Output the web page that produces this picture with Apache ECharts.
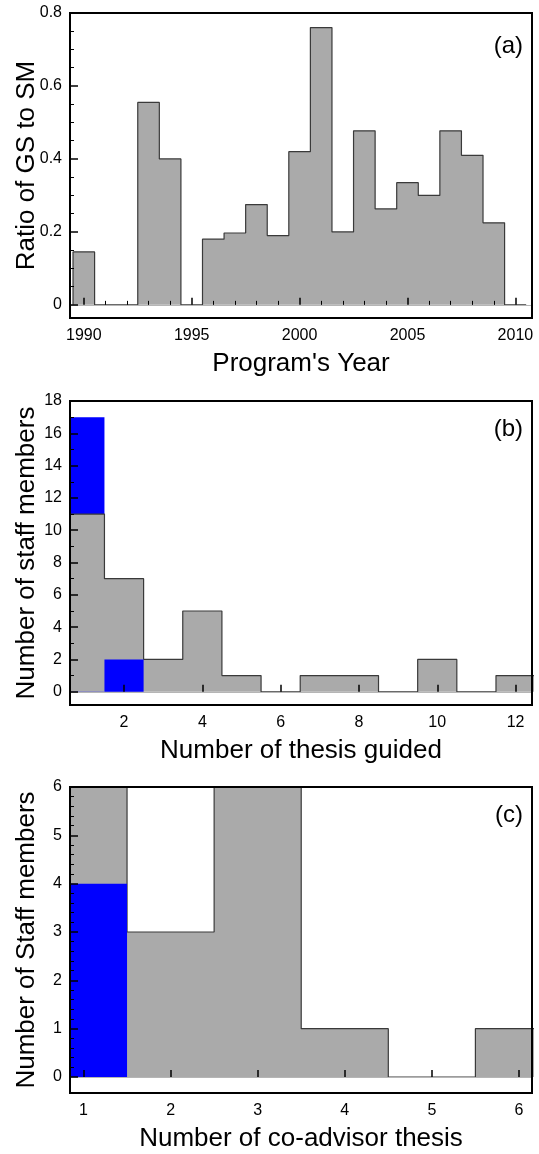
<!DOCTYPE html>
<html><head><meta charset="utf-8">
<script src="https://cdn.jsdelivr.net/npm/echarts@6/dist/echarts.min.js"></script>
<style>html,body{margin:0;padding:0;background:#fff}#c{width:539px;height:1154px}</style>
</head><body><div id="c"></div>
<script>
// ---------- Panel (a) ----------
const yearsA = [1990,1991,1992,1993,1994,1995,1996,1997,1998,1999,2000,2001,2002,2003,2004,2005,2006,2007,2008,2009,2010];
const ratioA = [0.145,0,0,0.555,0.40,0,0.18,0.197,0.275,0.19,0.42,0.76,0.20,0.477,0.263,0.335,0.30,0.477,0.41,0.225,0];
const yTicksA = [0,0.2,0.4,0.6,0.8];
const yMinorA = [0.05,0.1,0.15,0.25,0.3,0.35,0.45,0.5,0.55,0.65,0.7,0.75];
const xTicksA = [1990,1995,2000,2005,2010];
const xMinorA = [1991,1992,1993,1994,1996,1997,1998,1999,2001,2002,2003,2004,2006,2007,2008,2009];

// ---------- Panel (b) ----------
const thesisB = [1,2,3,4,5,6,7,8,9,10,11,12];
const staffB  = [11,7,2,5,1,0,1,1,0,2,0,1];
const blueB   = [17,2,0,0,0,0,0,0,0,0,0,0];
const yTicksB = [0,2,4,6,8,10,12,14,16,18];
const yMinorB = [1,3,5,7,9,11,13,15,17];
const xTicksB = [2,4,6,8,10,12];

// ---------- Panel (c) ----------
const coAdvC = [1,2,3,4,5,6];
const staffC = [6,3,6,1,0,1];
const blueC  = [4,0,0,0,0,0];
const yTicksC = [0,1,2,3,4,5,6];
const yMinorC = [0.2,0.4,0.6,0.8,1.2,1.4,1.6,1.8,2.2,2.4,2.6,2.8,3.2,3.4,3.6,3.8,4.2,4.4,4.6,4.8,5.2,5.4,5.6,5.8];
const xTicksC = [1,2,3,4,5,6];

const FONT = 'Liberation Sans, Arial, Helvetica, sans-serif';
const GRAY = '#aaaaaa', EDGE = '#3a3a3a', BLUE = '#0000ff';

// histogram outline points at bin edges (bins of width 1 centred on the categories)
function stepEdges(centers, vals) {
  const pts = [[centers[0] - 0.5, 0]];
  centers.forEach((c, i) => pts.push([c - 0.5, vals[i]]));
  const last = centers[centers.length - 1] + 0.5;
  pts.push([last, vals[vals.length - 1]]);
  pts.push([last, 0]);
  return pts;
}

const grids = [
  {left: 70, top: 13, width: 462, height: 305},
  {left: 70, top: 401, width: 462, height: 304},
  {left: 70, top: 787, width: 462, height: 306}
].map(g => Object.assign({show: true, borderColor: '#000', borderWidth: 2, backgroundColor: 'transparent',
  z: 10, containLabel: false, outerBoundsMode: 'none'}, g));

const panels = [
  {x: yearsA, v: ratioA, blue: null, xr: [1989.36, 2010.77], yr: [-0.036, 0.8],
   xt: xTicksA, xm: xMinorA, yt: yTicksA, ym: yMinorA,
   xname: "Program's Year", yname: 'Ratio of GS to SM'},
  {x: thesisB, v: staffB, blue: blueB, xr: [0.62, 12.42], yr: [-0.82, 18],
   xt: xTicksB, xm: [], yt: yTicksB, ym: yMinorB,
   xname: 'Number of thesis guided', yname: 'Number of staff members'},
  {x: coAdvC, v: staffC, blue: blueC, xr: [0.845, 6.15], yr: [-0.33, 6],
   xt: xTicksC, xm: [], yt: yTicksC, ym: yMinorC,
   xname: 'Number of co-advisor thesis', yname: 'Number of Staff members'}
];

const plain = v => String(Math.round(v * 1000) / 1000);

const xAxis = [], yAxis = [], series = [];
panels.forEach((p, gi) => {
  const xi = xAxis.length, yi = yAxis.length;
  xAxis.push({
    type: 'value', gridIndex: gi, position: 'bottom', min: p.xr[0], max: p.xr[1], z: 10,
    axisLine: {show: false}, splitLine: {show: false},
    axisTick: {show: true, inside: true, length: 7, customValues: p.xt, lineStyle: {color: '#000', width: 1.5}},
    axisLabel: {customValues: p.xt, formatter: plain, color: '#000', fontSize: 16, fontFamily: FONT, margin: 10},
    name: p.xname, nameLocation: 'middle', nameGap: 33, nameMoveOverlap: false,
    nameTextStyle: {fontSize: 26, color: '#000', fontFamily: FONT}
  });
  xAxis.push({
    type: 'value', gridIndex: gi, position: 'bottom', min: p.xr[0], max: p.xr[1], z: 10,
    axisLine: {show: false}, splitLine: {show: false}, axisLabel: {show: false},
    axisTick: {show: p.xm.length > 0, inside: true, length: 4, customValues: p.xm.length ? p.xm : [p.xr[0]], lineStyle: {color: '#000', width: 1}}
  });
  yAxis.push({
    type: 'value', gridIndex: gi, position: 'left', min: p.yr[0], max: p.yr[1], z: 10,
    axisLine: {show: false}, splitLine: {show: false},
    axisTick: {show: true, inside: true, length: 8, customValues: p.yt, lineStyle: {color: '#000', width: 1.5}},
    axisLabel: {customValues: p.yt, formatter: plain, color: '#000', fontSize: 16, fontFamily: FONT, margin: 8},
    name: p.yname, nameLocation: 'middle', nameGap: 30, nameMoveOverlap: false,
    nameTextStyle: {fontSize: 26, color: '#000', fontFamily: FONT}
  });
  yAxis.push({
    type: 'value', gridIndex: gi, position: 'left', offset: 0, min: p.yr[0], max: p.yr[1], z: 10,
    axisLine: {show: false}, splitLine: {show: false}, axisLabel: {show: false},
    axisTick: {show: true, inside: true, length: 4, customValues: p.ym, lineStyle: {color: '#000', width: 1}}
  });

  // light zero baseline
  series.push({
    type: 'line', xAxisIndex: xi, yAxisIndex: yi, data: [], z: 1, silent: true,
    markLine: {silent: true, symbol: 'none', label: {show: false},
      lineStyle: {color: '#b5b5b5', type: 'solid', width: 1}, data: [{yAxis: 0}]}
  });

  if (p.blue) {
    // taller blue bins sit behind the gray histogram
    series.push({
      type: 'line', xAxisIndex: xi, yAxisIndex: yi, z: 1, step: 'end', symbol: 'none', silent: true, clip: true,
      lineStyle: {width: 0, opacity: 0}, areaStyle: {color: BLUE, opacity: 1},
      data: stepEdges(p.x, p.x.map((c, i) => p.blue[i] > p.v[i] ? p.blue[i] : 0))
    });
  }
  series.push({
    type: 'line', xAxisIndex: xi, yAxisIndex: yi, z: 2, step: 'end', symbol: 'none', silent: true, clip: true,
    lineStyle: {color: EDGE, width: 1.2},
    areaStyle: {color: GRAY, opacity: 1},
    data: stepEdges(p.x, p.v)
  });
  if (p.blue) {
    // shorter blue bins are drawn in front
    series.push({
      type: 'line', xAxisIndex: xi, yAxisIndex: yi, z: 3, step: 'end', symbol: 'none', silent: true, clip: true,
      lineStyle: {width: 0, opacity: 0}, areaStyle: {color: BLUE, opacity: 1},
      data: stepEdges(p.x, p.x.map((c, i) => p.blue[i] <= p.v[i] ? p.blue[i] : 0))
    });
  }
});

const chart = echarts.init(document.getElementById('c'), null, {renderer: 'canvas'});
chart.setOption({
  animation: false,
  backgroundColor: '#fff',
  grid: grids,
  xAxis: xAxis,
  yAxis: yAxis,
  series: series,
  graphic: [
    {type: 'text', right: 16, top: 34, z: 20, style: {text: '(a)', font: '24px ' + FONT, fill: '#000'}},
    {type: 'text', right: 16, top: 417, z: 20, style: {text: '(b)', font: '24px ' + FONT, fill: '#000'}},
    {type: 'text', right: 16, top: 803, z: 20, style: {text: '(c)', font: '24px ' + FONT, fill: '#000'}}
  ]
});
</script></body></html>
